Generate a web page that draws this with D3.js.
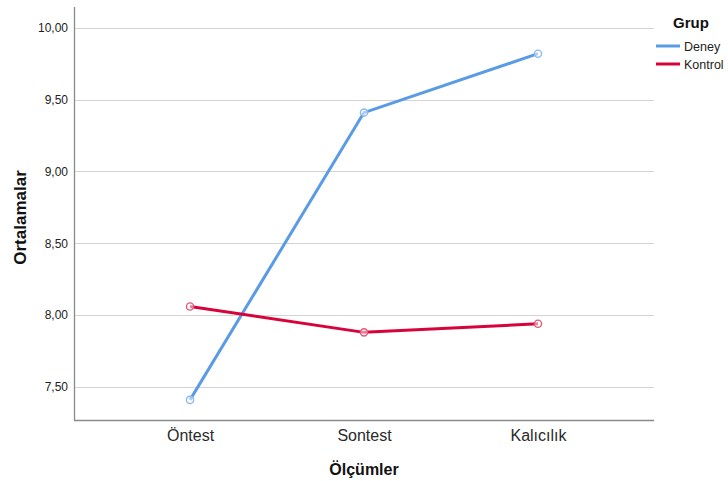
<!DOCTYPE html>
<html>
<head>
<meta charset="utf-8">
<script src="https://cdn.jsdelivr.net/npm/d3@7/dist/d3.min.js"></script>
<style>
  html, body { margin: 0; padding: 0; background: #fff; }
  svg { display: block; font-family: Arial, "Liberation Sans", sans-serif; }
</style>
</head>
<body>
<svg id="chart" width="728" height="481"></svg>
<script>
// Measurement occasions (x categories)
const categories = ["Öntest", "Sontest", "Kalıcılık"];
// Group means per occasion
const groups = ["Deney", "Kontrol"];
const deneyValues = [7.41, 9.41, 9.82];
const kontrolValues = [8.06, 7.88, 7.94];
// Y tick values and their labels (comma decimal)
const yTicks = [7.5, 8.0, 8.5, 9.0, 9.5, 10.0];
const yTickLabels = ["7,50", "8,00", "8,50", "9,00", "9,50", "10,00"];

const seriesColors = { Deney: "#5a9be6", Kontrol: "#d6043a" };
const markerColors = { Deney: "#8cb8ef", Kontrol: "#e05a78" };

const svg = d3.select("#chart");
const margin = { left: 74, right: 74, top: 7, bottom: 61 };
const W = 728, H = 481;
const x0 = margin.left, x1 = W - margin.right;   // 74 .. 654
const y0 = H - margin.bottom, y1 = margin.top;   // 420 .. 7

const x = d3.scalePoint().domain(categories).range([x0, x1]).padding(0.667);
const y = d3.scaleLinear().domain([7.27, 10.145]).range([y0, y1]);

// Horizontal gridlines
svg.append("g")
  .selectAll("line")
  .data(yTicks)
  .join("line")
  .attr("x1", x0).attr("x2", x1)
  .attr("y1", d => Math.round(y(d)) + 0.5).attr("y2", d => Math.round(y(d)) + 0.5)
  .attr("stroke", "#d4d4d4").attr("stroke-width", 1.2);

// Y axis
const yAxis = d3.axisLeft(y)
  .tickValues(yTicks)
  .tickFormat((d, i) => yTickLabels[i])
  .tickSize(0).tickPadding(6);
const gy = svg.append("g").attr("transform", `translate(${x0},0)`).call(yAxis);
gy.select(".domain").remove();
gy.selectAll("text").attr("fill", "#222").style("font-size", "12px");
svg.append("line")
  .attr("x1", x0 + 0.5).attr("x2", x0 + 0.5)
  .attr("y1", y1).attr("y2", y0)
  .attr("stroke", "#8a8a8a").attr("stroke-width", 1.3);

// X axis
const xAxis = d3.axisBottom(x).tickSize(0).tickPadding(10);
const gx = svg.append("g").attr("transform", `translate(0,${y0})`).call(xAxis);
gx.select(".domain").remove();
gx.selectAll("text").attr("fill", "#2a2a2a").style("font-size", "16px");
svg.append("line")
  .attr("x1", x0).attr("x2", x1)
  .attr("y1", y0 + 0.5).attr("y2", y0 + 0.5)
  .attr("stroke", "#8a8a8a").attr("stroke-width", 1.3);

// Axis titles
svg.append("text")
  .attr("x", (x0 + x1) / 2).attr("y", 475)
  .attr("text-anchor", "middle")
  .style("font-size", "16px").style("font-weight", "bold").attr("fill", "#111")
  .text("Ölçümler");
svg.append("text")
  .attr("transform", `translate(26,${(y0 + y1) / 2 + 4}) rotate(-90)`)
  .attr("text-anchor", "middle")
  .style("font-size", "17px").style("font-weight", "bold").attr("fill", "#111")
  .text("Ortalamalar");

// Series lines and markers
const seriesData = [
  { name: "Deney", values: deneyValues },
  { name: "Kontrol", values: kontrolValues }
];
const line = d3.line()
  .x((d, i) => x(categories[i]))
  .y(d => y(d));

const gs = svg.append("g");
seriesData.forEach(s => {
  gs.append("path")
    .datum(s.values)
    .attr("d", line)
    .attr("fill", "none")
    .attr("stroke", seriesColors[s.name])
    .attr("stroke-width", 3)
    .attr("stroke-linejoin", "round");
  gs.selectAll(null)
    .data(s.values)
    .join("circle")
    .attr("cx", (d, i) => x(categories[i]))
    .attr("cy", d => y(d))
    .attr("r", 3.6)
    .attr("fill", "#fff")
    .attr("fill-opacity", 0.5)
    .attr("stroke", markerColors[s.name])
    .attr("stroke-width", 1.4);
});

// Legend
const lg = svg.append("g");
lg.append("text")
  .attr("x", 673).attr("y", 28)
  .style("font-size", "15px").style("font-weight", "bold").attr("fill", "#111")
  .text("Grup");
groups.forEach((g, i) => {
  const ly = 46 + i * 18;
  lg.append("line")
    .attr("x1", 656).attr("x2", 680)
    .attr("y1", ly).attr("y2", ly)
    .attr("stroke", seriesColors[g]).attr("stroke-width", 3);
  lg.append("text")
    .attr("x", 684).attr("y", ly + 5)
    .style("font-size", "12.5px").attr("fill", "#222")
    .text(g);
});
</script>
</body>
</html>
